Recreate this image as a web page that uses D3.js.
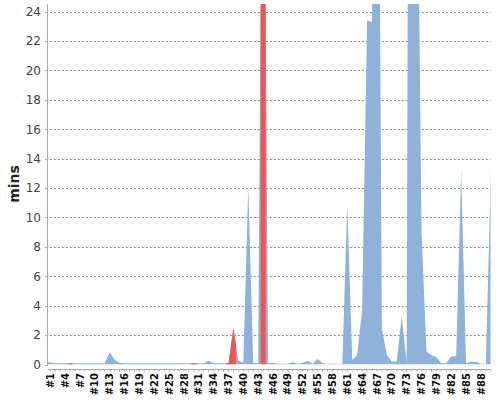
<!DOCTYPE html>
<html>
<head>
<meta charset="utf-8">
<script src="https://cdn.jsdelivr.net/npm/d3@7.9.0/dist/d3.min.js"></script>
<style>
  html, body { margin: 0; padding: 0; background: #fff; }
  svg { display: block; }
</style>
</head>
<body>
<svg id="chart" width="500" height="400"></svg>
<script>
// build duration in minutes, one value per build (#1 .. #90)
const durations = [
  0.15, 0.08, 0.08, 0.08, 0.08, 0.08, 0.08, 0.08, 0.08, 0.08,
  0.08, 0.08, 0.85, 0.3, 0.12, 0.08, 0.08, 0.08, 0.08, 0.08,
  0.08, 0.08, 0.08, 0.08, 0.08, 0.08, 0.08, 0.08, 0.08, 0.08,
  0.08, 0.08, 0.25, 0.08, 0.08, 0.08, 0.08, 2.5, 0.25, 0.12,
  12.1, 0.1, 0.1, 50, 0.12, 0.12, 0.05, 0.05, 0.05, 0.15,
  0.05, 0.12, 0.26, 0.05, 0.37, 0.1, 0.05, 0.05, 0.05, 0.05,
  10.9, 0.3, 0.65, 3.7, 23.4, 23.3, 60, 2.4, 0.65, 0.2,
  0.2, 3.3, 0.1, 118, 42, 9, 0.87, 0.65, 0.5, 0.08,
  0.08, 0.55, 0.58, 13.2, 0.1, 0.18, 0.18, 0.05, 0.05, 13.1
];
const builds = durations.map((d, i) => "#" + (i + 1));
const failedBuilds = ["#5", "#30", "#37", "#38", "#44"];
const yTicks = [0, 2, 4, 6, 8, 10, 12, 14, 16, 18, 20, 22, 24];
const yLabel = "mins";

const okColor = "#8eb2d9";
const failColor = "#f25454";

const svg = d3.select("#chart");
const plotLeft = 47.8, plotTop = 4, plotBottom = 364.5, clipRight = 490.5;
const bandW = 4.95;

const x = d3.scaleBand().domain(builds).range([plotLeft, plotLeft + bandW * builds.length]).padding(0);
const y = d3.scaleLinear().domain([0, 24.52]).range([plotBottom, plotTop]);

svg.append("defs").append("clipPath").attr("id", "plot")
  .append("rect")
  .attr("x", plotLeft).attr("y", plotTop)
  .attr("width", clipRight - plotLeft).attr("height", plotBottom - plotTop);

// grid
svg.append("g").selectAll("line")
  .data(yTicks.filter(t => t > 0)).enter()
  .append("line")
  .attr("x1", plotLeft + 2).attr("x2", clipRight)
  .attr("y1", d => Math.round(y(d)) + 0.5).attr("y2", d => Math.round(y(d)) + 0.5)
  .attr("stroke", "#8a8a8a").attr("stroke-width", 1)
  .attr("stroke-dasharray", "2,2");

// each build covers its own slot, edges meet the neighbours half way (jfreechart style)
function slot(i) {
  const v = durations[i];
  const prev = i > 0 ? durations[i - 1] : v;
  const next = i < durations.length - 1 ? durations[i + 1] : v;
  const x0 = x(builds[i]);
  return [
    [x0, (prev + v) / 2],
    [x0 + x.bandwidth() / 2, v],
    [x0 + x.bandwidth(), (v + next) / 2]
  ];
}

const area = d3.area()
  .x(d => d[0])
  .y0(y(0))
  .y1(d => y(d[1]));

const plot = svg.append("g").attr("clip-path", "url(#plot)");

const allPts = [];
durations.forEach((d, i) => slot(i).forEach(p => allPts.push(p)));
plot.append("path")
  .attr("d", area(allPts))
  .attr("fill", okColor);

plot.selectAll("path.fail")
  .data(failedBuilds).enter()
  .append("path")
  .attr("class", "fail")
  .attr("d", b => area(slot(builds.indexOf(b))))
  .attr("fill", failColor);

// y axis
svg.append("line")
  .attr("x1", 47.5).attr("x2", 47.5).attr("y1", plotTop).attr("y2", plotBottom + 1)
  .attr("stroke", "#aaa");
const yg = svg.append("g");
yg.selectAll("line").data(yTicks).enter().append("line")
  .attr("x1", 45).attr("x2", 47.5)
  .attr("y1", d => Math.round(y(d)) + 0.5).attr("y2", d => Math.round(y(d)) + 0.5)
  .attr("stroke", "#aaa");
yg.selectAll("text").data(yTicks).enter().append("text")
  .attr("x", 41).attr("y", d => y(d))
  .attr("dy", "0.36em")
  .attr("text-anchor", "end")
  .attr("font-family", "DejaVu Sans, sans-serif")
  .attr("font-size", 12)
  .attr("fill", "#444")
  .text(d => d);

svg.append("text")
  .attr("transform", "translate(19,184) rotate(-90)")
  .attr("text-anchor", "middle")
  .attr("font-family", "DejaVu Sans, sans-serif")
  .attr("font-size", 14)
  .attr("font-weight", "bold")
  .attr("fill", "#222")
  .text(yLabel);

// x axis
const axisY = 369.5;
svg.append("line")
  .attr("x1", plotLeft).attr("x2", clipRight).attr("y1", axisY).attr("y2", axisY)
  .attr("stroke", "#aaa");
const xg = svg.append("g");
xg.selectAll("line").data(builds).enter().append("line")
  .attr("x1", d => x(d) + x.bandwidth() / 2).attr("x2", d => x(d) + x.bandwidth() / 2)
  .attr("y1", axisY).attr("y2", axisY + 2)
  .attr("stroke", "#aaa");
xg.selectAll("text").data(builds.filter((b, i) => i % 3 === 0)).enter().append("text")
  .attr("transform", d => `translate(${x(d) + x.bandwidth() / 2 + 3.6},373) rotate(-90)`)
  .attr("text-anchor", "end")
  .attr("font-family", "DejaVu Sans, sans-serif")
  .attr("font-size", 10)
  .attr("font-weight", "bold")
  .attr("fill", "#111")
  .text(d => d);
</script>
</body>
</html>
